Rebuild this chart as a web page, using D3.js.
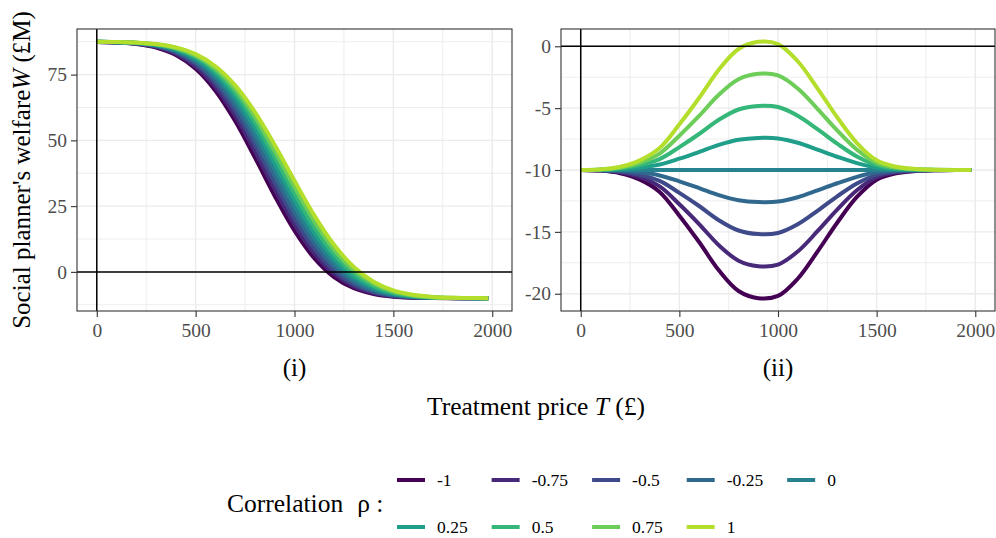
<!DOCTYPE html>
<html>
<head>
<meta charset="utf-8">
<script src="https://cdn.jsdelivr.net/npm/d3@7"></script>
<style>
  body { margin: 0; background: #fff; }
</style>
</head>
<body>
<svg id="chart" width="996" height="538"></svg>
<script>
var serif = "'Liberation Serif', 'Times New Roman', serif";

// treatment price T (£) at which each curve was read
var price = [0, 100, 200, 300, 400, 500, 600, 700, 800, 900, 1000,
  1100, 1200, 1300, 1400, 1500, 1600, 1700, 1800, 1900, 1980];

var rho = [-1, -0.75, -0.5, -0.25, 0, 0.25, 0.5, 0.75, 1];
var rhoLabels = ["-1", "-0.75", "-0.5", "-0.25", "0", "0.25", "0.5", "0.75", "1"];

// panel (i): social planner's welfare, one row per rho
var welfareI = [
  [87.42, 87.22, 86.67, 85.32, 82.47, 77.25, 68.90, 57.35, 43.45, 28.86, 15.64, 5.21, -1.97, -6.23, -8.43, -9.43, -9.82, -9.95, -9.99, -10.00, -10.00],
  [87.43, 87.25, 86.76, 85.55, 82.95, 78.14, 70.34, 59.35, 45.86, 31.40, 17.95, 7.03, -0.72, -5.49, -8.05, -9.26, -9.75, -9.93, -9.98, -10.00, -10.00],
  [87.44, 87.28, 86.85, 85.77, 83.43, 79.03, 71.77, 61.34, 48.26, 33.94, 20.25, 8.84, 0.53, -4.74, -7.67, -9.08, -9.68, -9.90, -9.97, -10.00, -10.00],
  [87.45, 87.31, 86.92, 85.95, 83.82, 79.78, 73.01, 63.14, 50.52, 36.43, 22.63, 10.83, 1.98, -3.83, -7.17, -8.84, -9.58, -9.87, -9.96, -10.00, -10.00],
  [87.45, 87.33, 86.99, 86.12, 84.20, 80.52, 74.25, 64.93, 52.78, 38.91, 25.00, 12.81, 3.42, -2.91, -6.66, -8.60, -9.48, -9.83, -9.95, -9.99, -10.00],
  [87.46, 87.35, 87.05, 86.26, 84.53, 81.14, 75.32, 66.53, 54.88, 41.29, 27.41, 14.93, 5.05, -1.81, -6.01, -8.26, -9.33, -9.77, -9.93, -9.98, -10.00],
  [87.46, 87.37, 87.10, 86.40, 84.85, 81.76, 76.38, 68.12, 56.97, 43.67, 29.81, 17.04, 6.68, -0.71, -5.35, -7.92, -9.17, -9.71, -9.91, -9.97, -9.99],
  [87.47, 87.39, 87.14, 86.52, 85.11, 82.27, 77.28, 69.53, 58.88, 45.97, 32.23, 19.27, 8.49, 0.59, -4.54, -7.48, -8.95, -9.62, -9.88, -9.96, -9.99],
  [87.47, 87.40, 87.18, 86.63, 85.36, 82.78, 78.18, 70.93, 60.79, 48.26, 34.64, 21.50, 10.29, 1.88, -3.72, -7.03, -8.73, -9.52, -9.84, -9.95, -9.98]
];

// panel (ii)
var welfareII = [
  [-10, -10.05, -10.26, -10.78, -11.77, -13.69, -15.82, -18.11, -19.78, -20.36, -20.18, -18.79, -16.60, -14.26, -12.18, -10.78, -10.26, -10.08, -10.02, -10, -10],
  [-10, -10.04, -10.19, -10.58, -11.33, -12.77, -14.37, -16.08, -17.33, -17.77, -17.64, -16.59, -14.95, -13.20, -11.64, -10.58, -10.19, -10.06, -10.02, -10, -10],
  [-10, -10.03, -10.13, -10.39, -10.88, -11.85, -12.91, -14.06, -14.89, -15.18, -15.09, -14.39, -13.30, -12.13, -11.09, -10.39, -10.13, -10.04, -10.01, -10, -10],
  [-10, -10.01, -10.06, -10.19, -10.44, -10.92, -11.46, -12.03, -12.44, -12.59, -12.55, -12.20, -11.65, -11.07, -10.55, -10.19, -10.06, -10.02, -10.01, -10, -10],
  [-10, -10, -10, -10, -10, -10, -10, -10, -10, -10, -10, -10, -10, -10, -10, -10, -10, -10, -10, -10, -10],
  [-10, -9.99, -9.94, -9.81, -9.56, -9.08, -8.54, -7.97, -7.56, -7.41, -7.45, -7.80, -8.35, -8.93, -9.45, -9.81, -9.94, -9.98, -9.99, -10, -10],
  [-10, -9.97, -9.87, -9.61, -9.12, -8.15, -7.09, -5.94, -5.11, -4.82, -4.91, -5.61, -6.70, -7.87, -8.91, -9.61, -9.87, -9.96, -9.99, -10, -10],
  [-10, -9.96, -9.81, -9.42, -8.67, -7.23, -5.63, -3.92, -2.67, -2.23, -2.36, -3.41, -5.05, -6.80, -8.36, -9.42, -9.81, -9.94, -9.98, -10, -10],
  [-10, -9.95, -9.74, -9.22, -8.23, -6.31, -4.18, -1.89, -0.22, 0.36, 0.18, -1.21, -3.40, -5.74, -7.82, -9.22, -9.74, -9.92, -9.98, -10, -10]
];

var xLimits = [0, 2000],
  xTicks = [0, 500, 1000, 1500, 2000],
  yTicksI = [0, 25, 50, 75],
  yTicksII = [0, -5, -10, -15, -20];

// viridis, 9 levels, end = 0.9
var palette = ["#440154", "#482878", "#3e4a89", "#31688e", "#26828e",
  "#1f9e89", "#35b779", "#6dcd59", "#b4de2c"];

var svg = d3.select("#chart");

// ggplot style 5% expansion
function expand(ext){
  var pad = (ext[1] - ext[0]) * 0.05;
  return [ext[0] - pad, ext[1] + pad];
}

function minorBreaks(ticks, domain){
  var step = Math.abs(ticks[1] - ticks[0]), out = [];
  var lo = d3.min(ticks) - step / 2;
  for (var v = lo; v <= d3.max(ticks) + step / 2; v += step){
    if (v > domain[0] && v < domain[1]) out.push(v);
  }
  return out;
}

function drawPanel(p){
  var g = svg.append("g");

  var x = d3.scaleLinear().domain(expand(xLimits)).range([p.left, p.right]);
  var all = d3.merge(p.series);
  var y = d3.scaleLinear().domain(expand(d3.extent(all))).range([p.bottom, p.top]);

  // grid
  var grid = g.append("g").attr("stroke", "#ebebeb");
  grid.selectAll(".xminor").data(minorBreaks(xTicks, x.domain()))
    .enter().append("line")
      .attr("x1", x).attr("x2", x).attr("y1", p.top).attr("y2", p.bottom)
      .attr("stroke-width", 0.9);
  grid.selectAll(".yminor").data(minorBreaks(p.yTicks, y.domain()))
    .enter().append("line")
      .attr("y1", y).attr("y2", y).attr("x1", p.left).attr("x2", p.right)
      .attr("stroke-width", 0.9);
  grid.selectAll(".xmajor").data(xTicks)
    .enter().append("line")
      .attr("x1", x).attr("x2", x).attr("y1", p.top).attr("y2", p.bottom)
      .attr("stroke-width", 1.4);
  grid.selectAll(".ymajor").data(p.yTicks)
    .enter().append("line")
      .attr("y1", y).attr("y2", y).attr("x1", p.left).attr("x2", p.right)
      .attr("stroke-width", 1.4);

  var line = d3.line()
    .x(function(d, i){ return x(price[i]); })
    .y(function(d){ return y(d); })
    .curve(d3.curveCatmullRom.alpha(0.5));

  g.selectAll(".rho-line")
      .data(p.series)
    .enter().append("path")
      .attr("class", "rho-line")
      .attr("d", line)
      .attr("fill", "none")
      .attr("stroke", function(d, i){ return palette[i]; })
      .attr("stroke-width", 4)
      .attr("stroke-linecap", "butt");

  // reference lines at zero
  g.append("line")
    .attr("x1", x(0)).attr("x2", x(0)).attr("y1", p.top).attr("y2", p.bottom)
    .attr("stroke", "#000").attr("stroke-width", 1.5);
  g.append("line")
    .attr("x1", p.left).attr("x2", p.right).attr("y1", y(0)).attr("y2", y(0))
    .attr("stroke", "#000").attr("stroke-width", 1.5);

  g.append("rect")
    .attr("x", p.left).attr("y", p.top)
    .attr("width", p.right - p.left).attr("height", p.bottom - p.top)
    .attr("fill", "none").attr("stroke", "#333").attr("stroke-width", 1.1);

  var xAxis = g.append("g")
    .attr("transform", "translate(0," + p.bottom + ")")
    .call(d3.axisBottom(x).tickValues(xTicks).tickSize(6).tickPadding(6)
      .tickFormat(function(d){ return String(d); }));
  var yAxis = g.append("g")
    .attr("transform", "translate(" + p.left + ",0)")
    .call(d3.axisLeft(y).tickValues(p.yTicks).tickSize(6).tickPadding(4)
      .tickFormat(function(d){ return String(d); }));
  [xAxis, yAxis].forEach(function(a){
    a.select(".domain").remove();
    a.attr("font-family", null).attr("font-size", null);
    a.selectAll(".tick line").attr("stroke", "#333").attr("stroke-width", 1.1);
    a.selectAll(".tick text")
      .style("font-family", serif)
      .style("font-size", "19.5px")
      .attr("fill", "#4d4d4d");
  });

  g.append("text")
    .attr("x", (p.left + p.right) / 2)
    .attr("y", 376)
    .attr("text-anchor", "middle")
    .style("font-family", serif)
    .style("font-size", "25px")
    .text(p.label);
}

drawPanel({left: 77, right: 512, top: 29, bottom: 311, series: welfareI, yTicks: yTicksI, label: "(i)"});
drawPanel({left: 561, right: 995, top: 29, bottom: 311, series: welfareII, yTicks: yTicksII, label: "(ii)"});

// axis titles
var ytitle = svg.append("text")
  .attr("transform", "translate(30,170) rotate(-90)")
  .attr("text-anchor", "middle")
  .style("font-family", serif)
  .style("font-size", "25px");
ytitle.append("tspan").text("Social planner's welfare");
ytitle.append("tspan").style("font-style", "italic").text("W");
ytitle.append("tspan").text(" (£M)");

var xtitle = svg.append("text")
  .attr("x", 536).attr("y", 415)
  .attr("text-anchor", "middle")
  .style("font-family", serif)
  .style("font-size", "25.5px");
xtitle.append("tspan").text("Treatment price ");
xtitle.append("tspan").style("font-style", "italic").text("T");
xtitle.append("tspan").text(" (£)");

// legend
var leg = svg.append("g").style("font-family", serif);
var legTitle = leg.append("text")
  .attr("x", 227).attr("y", 512)
  .style("font-size", "25.5px");
legTitle.append("tspan").text("Correlation");
legTitle.append("tspan").attr("dx", 14).text("ρ :");

var nCol = 5, rowY = [480, 527], keyStart = 397, keyLen = 28, labelGap = 40, colGap = 24;
var colX = [], cx = keyStart;
for (var c = 0; c < nCol; c++){
  colX.push(cx);
  var w = 0;
  for (var r = 0; r < rowY.length; r++){
    var k = r * nCol + c;
    if (k >= rho.length) continue;
    var tmp = leg.append("text").style("font-size", "17.5px").text(rhoLabels[k]);
    w = Math.max(w, tmp.node().getComputedTextLength());
    tmp.remove();
  }
  cx += labelGap + w + colGap;
}

rho.forEach(function(d, k){
  var r = Math.floor(k / nCol), c = k % nCol;
  leg.append("line")
    .attr("x1", colX[c]).attr("x2", colX[c] + keyLen)
    .attr("y1", rowY[r]).attr("y2", rowY[r])
    .attr("stroke", palette[k]).attr("stroke-width", 4);
  leg.append("text")
    .attr("x", colX[c] + labelGap).attr("y", rowY[r])
    .attr("dy", "0.35em")
    .style("font-size", "17.5px")
    .text(rhoLabels[k]);
});
</script>
</body>
</html>
